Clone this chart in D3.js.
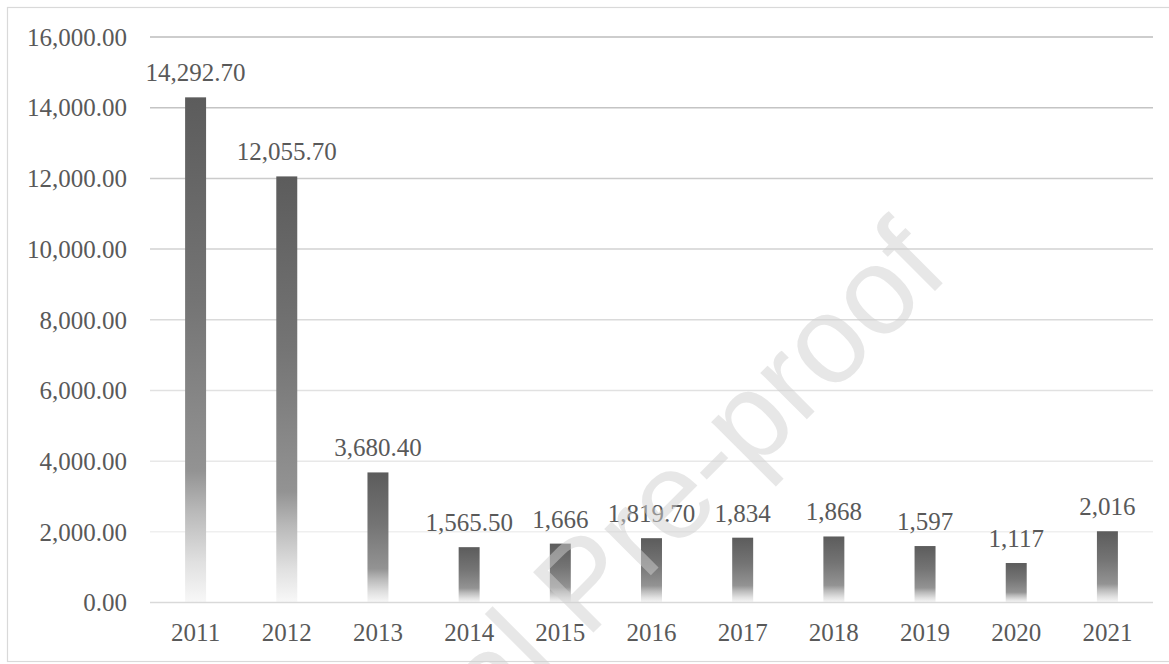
<!DOCTYPE html>
<html>
<head>
<meta charset="utf-8">
<script src="https://cdn.jsdelivr.net/npm/d3@7"></script>
<style>
  html, body { margin: 0; padding: 0; background: #fff; }
  svg { display: block; }
</style>
</head>
<body>
<svg id="chart" width="1169" height="664"></svg>
<script>
const years = ["2011","2012","2013","2014","2015","2016","2017","2018","2019","2020","2021"];
const values = [14292.70, 12055.70, 3680.40, 1565.50, 1666, 1819.70, 1834, 1868, 1597, 1117, 2016];
const valueLabels = ["14,292.70","12,055.70","3,680.40","1,565.50","1,666","1,819.70","1,834","1,868","1,597","1,117","2,016"];
const yTicks = [0, 2000, 4000, 6000, 8000, 10000, 12000, 14000, 16000];
const watermarkText = "Journal Pre-proof";

const svg = d3.select("#chart");
const W = 1169, H = 664;
const plot = { left: 150, right: 1153, top: 37, bottom: 602.5 };
const textColor = "#595959";
const serif = "'Liberation Serif', 'Times New Roman', serif";

// background + border
svg.append("rect").attr("x", 0).attr("y", 0).attr("width", W).attr("height", H).attr("fill", "#fff");
svg.append("rect").attr("x", 7.5).attr("y", 7.5).attr("width", 1175).attr("height", 654)
  .attr("fill", "none").attr("stroke", "#d9d9d9").attr("stroke-width", 1.2);

const x = d3.scaleBand().domain(years).range([plot.left, plot.right])
  .paddingInner(0.77).paddingOuter(0.385);
const y = d3.scaleLinear().domain([0, 16000]).range([plot.bottom, plot.top]);

// gradients
const defs = svg.append("defs");
const g = defs.append("linearGradient").attr("id", "barGrad")
  .attr("x1", 0).attr("y1", 0).attr("x2", 0).attr("y2", 1);
[[0, "#5c5c5c"], [0.4, "#747474"], [0.74, "#939393"], [0.82, "#b9b9b9"], [0.92, "#e0e0e0"], [1, "#f8f8f8"]]
  .forEach(([o, c]) => g.append("stop").attr("offset", o).attr("stop-color", c));

// gridlines (lighter toward bottom)
const gridColor = d3.scaleLinear().domain([16000, 2000]).range(["#bdbdbd", "#efefef"]);
svg.append("g").selectAll("line").data(yTicks.filter(d => d > 0)).join("line")
  .attr("x1", plot.left).attr("x2", plot.right)
  .attr("y1", d => y(d)).attr("y2", d => y(d))
  .attr("stroke", d => gridColor(d)).attr("stroke-width", 1.5);

// y axis labels
const yAxis = d3.axisLeft(y).tickValues(yTicks).tickFormat(d3.format(",.2f")).tickSize(0).tickPadding(0);
const yg = svg.append("g").attr("transform", `translate(127,0)`).call(yAxis);
yg.select(".domain").remove();
yg.selectAll("text").attr("fill", textColor).attr("font-family", serif).attr("font-size", 25)
  .attr("dy", "0.33em");

// bars
svg.append("g").selectAll("rect").data(values).join("rect")
  .attr("x", (d, i) => x(years[i]))
  .attr("width", x.bandwidth())
  .attr("y", d => y(d))
  .attr("height", d => y(0) - y(d))
  .attr("fill", "url(#barGrad)");

// baseline
svg.append("line").attr("x1", plot.left).attr("x2", plot.right)
  .attr("y1", y(0)).attr("y2", y(0)).attr("stroke", "#d9d9d9").attr("stroke-width", 1.5);

// x axis labels
const xAxis = d3.axisBottom(x).tickSize(0).tickPadding(0);
const xg = svg.append("g").attr("transform", `translate(0,${y(0)})`).call(xAxis);
xg.select(".domain").remove();
xg.selectAll("text").attr("fill", textColor).attr("font-family", serif).attr("font-size", 25)
  .attr("y", 38.5).attr("dy", null);

// value labels
svg.append("g").selectAll("text").data(values).join("text")
  .attr("x", (d, i) => x(years[i]) + x.bandwidth() / 2)
  .attr("y", d => y(d) - 16)
  .attr("text-anchor", "middle")
  .attr("fill", textColor).attr("font-family", serif).attr("font-size", 25)
  .text((d, i) => valueLabels[i]);

// watermark
svg.append("text")
  .attr("transform", "translate(613,613) rotate(-45)")
  .attr("text-anchor", "middle")
  .attr("font-family", "'Liberation Sans', Arial, sans-serif")
  .attr("font-size", 124)
  .attr("fill", "#d0d0d0").attr("fill-opacity", 0.5)
  .text(watermarkText);
</script>
</body>
</html>
